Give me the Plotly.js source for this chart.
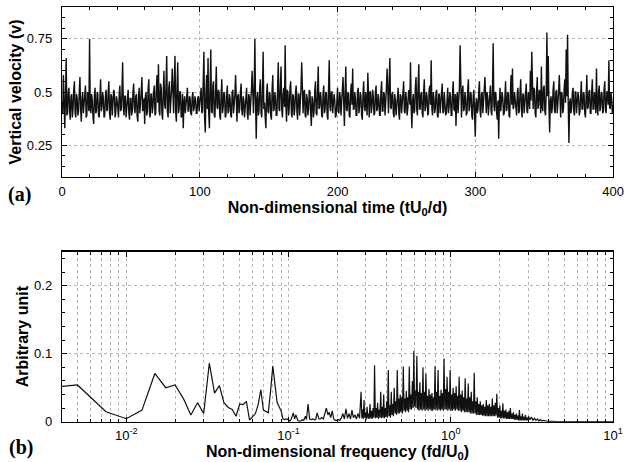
<!DOCTYPE html>
<html><head><meta charset="utf-8">
<script src="https://cdn.plot.ly/plotly-3.0.1.min.js"></script>
<style>html,body{margin:0;padding:0;background:#fff}#chart{width:624px;height:462px}</style>
</head><body><div id="chart"></div>
<script>
// (a) vertical velocity time series, sampled every 0.5 time unit from t = 0
const timeStart = 0;
const timeStep = 0.5;
const velocity = [
.45,.40,.58,.44,.33,.47,.66,.39,.40,.50,.52,.41,.37,.48,.49,.38,.42,.51,.55,.40,.38,.49,.47,.39,.41,.50,.57,.42,.36,.47,.50,.40,.44,.49,.53,.38,.39,.50,.48,.41,
.75,.42,.40,.49,.46,.38,.35,.48,.52,.40,.41,.50,.49,.39,.38,.47,.56,.41,.43,.50,.47,.38,.39,.48,.51,.41,.42,.50,.55,.40,.37,.49,.48,.39,.44,.51,.50,.38,.40,.48,
.46,.40,.38,.49,.53,.41,.42,.50,.64,.43,.39,.48,.48,.38,.43,.50,.51,.40,.37,.47,.47,.39,.41,.50,.54,.42,.40,.48,.49,.39,.36,.47,.52,.40,.44,.50,.57,.41,.42,.47,
.35,.48,.50,.39,.41,.51,.56,.40,.38,.49,.49,.40,.43,.50,.53,.39,.40,.52,.58,.45,.63,.41,.39,.54,.52,.40,.37,.50,.60,.44,.42,.53,.67,.41,.38,.52,.55,.40,.44,.51,
.61,.43,.40,.55,.67,.41,.36,.52,.64,.40,.42,.50,.50,.38,.39,.49,.33,.45,.48,.40,.44,.49,.52,.41,.41,.48,.47,.40,.39,.48,.50,.41,.43,.48,.46,.40,.40,.47,.48,.41,
.45,.48,.52,.40,.41,.55,.69,.38,.31,.50,.58,.42,.66,.40,.33,.52,.70,.41,.40,.53,.55,.39,.38,.50,.62,.43,.42,.51,.50,.39,.37,.49,.56,.40,.43,.50,.49,.38,.39,.48,
.53,.40,.41,.49,.47,.39,.38,.50,.51,.40,.44,.49,.58,.41,.36,.48,.49,.40,.42,.50,.54,.41,.39,.48,.46,.38,.43,.50,.52,.40,.37,.49,.48,.39,.44,.51,.60,.42,.40,.52,
.75,.45,.28,.47,.50,.39,.41,.52,.56,.40,.38,.50,.69,.42,.45,.38,.33,.49,.54,.41,.40,.50,.49,.39,.37,.51,.58,.41,.42,.50,.47,.39,.39,.52,.64,.42,.41,.53,.62,.42,
.38,.49,.52,.43,.72,.44,.36,.51,.50,.39,.43,.52,.55,.40,.38,.49,.48,.39,.42,.50,.53,.41,.37,.49,.49,.39,.44,.52,.64,.41,.40,.50,.51,.39,.38,.49,.47,.39,.42,.51,
.50,.40,.34,.48,.46,.38,.41,.51,.55,.40,.39,.50,.62,.42,.43,.50,.48,.39,.38,.49,.53,.40,.42,.50,.49,.39,.37,.52,.65,.43,.41,.50,.50,.40,.44,.49,.46,.38,.39,.50,
.52,.41,.40,.50,.48,.39,.43,.51,.57,.42,.34,.49,.62,.42,.41,.50,.49,.39,.38,.50,.54,.44,.61,.42,.42,.50,.47,.39,.39,.50,.52,.40,.43,.50,.48,.39,.37,.49,.55,.43,
.41,.50,.46,.39,.59,.43,.38,.50,.50,.40,.43,.51,.48,.39,.40,.50,.53,.41,.42,.49,.47,.39,.39,.50,.55,.41,.41,.50,.49,.39,.44,.52,.61,.43,.40,.54,.66,.43,.42,.49,
.50,.40,.38,.49,.46,.39,.43,.51,.52,.40,.37,.49,.48,.40,.44,.51,.55,.41,.40,.50,.47,.39,.42,.50,.51,.44,.64,.42,.33,.46,.49,.40,.41,.52,.57,.42,.39,.53,.63,.42,
.42,.49,.50,.40,.38,.50,.56,.41,.43,.50,.48,.39,.40,.51,.53,.44,.65,.42,.39,.50,.47,.40,.42,.50,.51,.39,.38,.49,.49,.40,.44,.51,.54,.40,.41,.50,.46,.39,.40,.49,
.52,.40,.43,.50,.48,.39,.39,.50,.55,.42,.41,.49,.34,.47,.50,.40,.44,.52,.72,.43,.38,.50,.53,.41,.42,.50,.47,.39,.40,.51,.56,.41,.43,.50,.49,.39,.37,.48,.51,.40,
.29,.45,.47,.40,.42,.50,.55,.41,.38,.49,.50,.40,.44,.51,.57,.42,.40,.50,.48,.39,.43,.50,.53,.41,.39,.52,.73,.44,.41,.50,.49,.40,.37,.46,.28,.45,.52,.41,.44,.50,
.47,.39,.40,.50,.55,.41,.42,.50,.49,.39,.38,.50,.58,.44,.61,.42,.43,.50,.46,.39,.39,.50,.52,.40,.41,.50,.56,.42,.38,.49,.49,.40,.44,.51,.54,.41,.40,.50,.47,.42,
.60,.46,.69,.43,.42,.52,.51,.40,.38,.50,.57,.42,.44,.51,.50,.40,.62,.43,.41,.52,.53,.41,.39,.50,.78,.48,.67,.43,.31,.46,.48,.40,.43,.51,.55,.41,.40,.50,.51,.40,
.44,.50,.58,.42,.38,.50,.49,.40,.42,.51,.56,.45,.70,.48,.77,.44,.26,.45,.47,.40,.43,.50,.52,.41,.39,.50,.50,.40,.44,.50,.48,.39,.41,.51,.55,.42,.42,.50,.49,.40,
.38,.48,.58,.42,.43,.50,.51,.40,.40,.50,.56,.42,.42,.50,.48,.40,.61,.43,.39,.50,.53,.41,.43,.50,.49,.40,.41,.51,.55,.42,.40,.50,.50,.44,.65,.43,.42,.50,.47,.40,.44
];

// (b) spectrum: non-dimensional frequency and power (arbitrary unit)
const freq = [
0.0025,0.005,0.0075,0.01,0.0125,0.015,0.0175,0.02,0.0225,0.025,
0.0275,0.03,0.0325,0.035,0.0375,0.04,0.0425,0.045,0.0475,0.05,
0.0525,0.055,0.0575,0.06,0.0625,0.065,0.0675,0.07,0.0725,0.075,
0.0775,0.08,0.0825,0.085,0.0875,0.09,0.0925,0.095,0.0975,
0.100,0.102,0.104,0.107,0.109,0.111,0.114,0.116,0.119,0.121,
0.124,0.127,0.129,0.132,0.135,0.138,0.141,0.144,0.147,0.150,
0.154,0.157,0.160,0.164,0.167,0.171,0.175,0.178,0.182,0.186,
0.190,0.194,0.199,0.203,0.207,0.212,0.216,0.221,0.226,0.231,
0.236,0.241,0.246,0.251,0.257,0.262,0.268,0.274,
0.280,0.283,0.286,0.289,0.292,0.295,0.298,0.301,0.305,0.308,
0.311,0.314,0.318,0.321,0.325,0.328,0.332,0.336,0.339,0.343,
0.347,0.350,0.354,0.358,0.362,0.366,0.370,0.374,0.378,0.382,
0.386,0.390,0.394,0.398,0.403,0.407,0.412,0.416,0.420,0.425,
0.430,0.434,0.439,0.443,0.448,0.453,0.458,0.463,0.468,0.473,
0.478,0.483,0.488,0.493,0.499,0.504,0.510,0.515,0.521,0.526,
0.532,0.538,0.544,0.549,0.555,0.561,0.567,0.573,0.580,0.586,
0.592,0.598,0.605,0.611,0.618,0.625,0.632,0.638,0.645,0.652,
0.659,0.666,0.674,0.681,0.688,0.695,0.703,0.710,0.718,0.726,
0.734,0.742,0.750,0.758,0.766,0.774,0.783,0.791,0.800,0.808,
0.817,0.826,0.835,0.844,0.853,0.862,0.871,0.880,0.890,0.899,
0.909,0.919,0.929,0.939,0.949,0.959,0.970,0.980,0.991,1.001,
1.012,1.023,1.034,1.045,1.056,1.067,1.079,1.091,1.103,1.114,
1.126,1.138,1.151,1.163,1.176,1.188,1.201,1.214,1.227,1.240,
1.254,1.267,1.281,1.294,1.308,1.322,1.337,1.351,1.366,1.380,
1.395,1.410,1.425,1.440,1.456,1.472,1.488,1.504,1.520,1.536,
1.553,1.569,1.586,1.603,1.620,1.637,1.655,1.673,1.691,1.709,
1.728,1.746,1.765,1.784,1.803,1.822,1.842,1.862,1.882,1.902,
1.922,1.943,1.964,1.985,2.006,2.028,2.050,2.072,2.094,2.116,
2.139,2.162,2.185,2.209,2.233,2.257,2.281,2.305,2.330,2.355,
2.381,2.406,2.432,2.458,2.485,2.511,2.538,2.565,2.593,2.621,
2.649,2.677,2.706,2.735,2.765,2.795,2.825,2.855,2.886,2.917,
2.948,2.980,3.012,
3.077,3.143,3.211,3.280,3.351,3.424,3.498,3.573,3.650,3.729,
3.810,3.892,3.976,4.062,4.150,4.240,4.331,4.425,4.520,5.0,
6,7,8,9,10
];
const power = [
0.048,0.054,0.0146,0.0044,0.017,0.071,0.050,0.054,0.034,0.010,
0.028,0.012,0.086,0.042,0.053,0.028,0.021,0.018,0.008,0.026,
0.025,0.030,0.0025,0.007,0.012,0.025,0.047,0.017,0.015,0.013,
0.045,0.082,0.055,0.029,0.022,0.016,0.004,0.003,0.004,
0.003,0.001,0.004,0.013,0.004,0.010,0.002,0.001,0.001,0.003,
0.002,0.008,0.003,0.026,0.004,0.003,0.004,0.003,0.003,0.013,
0.004,0.004,0.006,0.004,0.012,0.020,0.010,0.014,0.006,0.016,
0.004,0.002,0.002,0.003,0.002,0.006,0.012,0.004,0.019,0.005,
0.012,0.004,0.017,0.006,0.010,0.004,0.012,0.005,
0.044,0.005,0.018,0.004,0.032,0.006,0.014,0.003,0.022,0.005,
0.012,0.004,0.026,0.005,0.016,0.004,0.020,0.006,0.083,0.005,
0.020,0.006,0.028,0.004,0.018,0.006,0.044,0.005,0.022,0.006,
0.040,0.005,0.020,0.007,0.030,0.006,0.076,0.008,0.024,0.006,
0.044,0.010,0.026,0.008,0.050,0.012,0.030,0.010,0.076,0.012,
0.034,0.012,0.040,0.014,0.036,0.012,0.081,0.016,0.034,0.014,
0.045,0.016,0.036,0.014,0.081,0.018,0.040,0.018,0.060,0.020,
0.104,0.022,0.046,0.020,0.097,0.018,0.044,0.016,0.058,0.018,
0.042,0.016,0.080,0.018,0.044,0.016,0.071,0.018,0.038,0.016,
0.048,0.018,0.040,0.016,0.042,0.016,0.036,0.018,0.082,0.018,
0.044,0.016,0.076,0.018,0.038,0.016,0.047,0.018,0.042,0.016,
0.093,0.018,0.048,0.018,0.066,0.016,0.044,0.018,0.076,0.016,
0.040,0.016,0.050,0.018,0.042,0.016,0.052,0.018,0.038,0.016,
0.066,0.016,0.040,0.014,0.046,0.016,0.036,0.014,0.064,0.014,
0.034,0.014,0.056,0.014,0.036,0.012,0.044,0.012,0.030,0.012,
0.072,0.012,0.030,0.010,0.036,0.010,0.026,0.010,0.030,0.010,
0.024,0.009,0.026,0.009,0.022,0.008,0.032,0.008,0.024,0.008,
0.026,0.008,0.022,0.008,0.034,0.008,0.024,0.008,0.028,0.009,
0.041,0.006,0.020,0.006,0.024,0.005,0.016,0.005,0.027,0.005,
0.016,0.005,0.018,0.004,0.014,0.004,0.016,0.004,0.020,0.004,
0.012,0.004,0.014,0.003,0.010,0.003,0.012,0.003,0.009,0.002,
0.017,0.002,0.008,0.002,0.012,0.002,0.007,0.002,0.010,0.002,
0.006,0.002,0.008,
0.003,0.007,0.002,0.005,0.002,0.004,0.001,0.003,0.001,0.002,
0.001,0.001,0.0005,0.001,0.0005,0.0005,0.0003,0.0003,0.0002,0.0002,
0.0002,0.0002,0.0002,0.0002,0.0002
];

// tick labels and positions of the logarithmic frequency axis
const freqDecades = [0.01, 0.1, 1, 10];
const freqDecadeLabels = ['10<sup>-2</sup>', '10<sup>-1</sup>', '10<sup>0</sup>', '10<sup>1</sup>'];
const freqMinorTicks = [0.005,0.006,0.007,0.008,0.009,0.02,0.03,0.04,0.05,0.06,0.07,0.08,0.09,
  0.2,0.3,0.4,0.5,0.6,0.7,0.8,0.9,2,3,4,5,6,7,8,9];

const panelLabels = ['(a)', '(b)'];
const xTitleA = 'Non-dimensional time (tU<sub>0</sub>/d)';
const yTitleA = 'Vertical velocity (v)';
const xTitleB = 'Non-dimensional frequency (fd/U<sub>0</sub>)';
const yTitleB = 'Arbitrary unit';

const sans = 'Liberation Sans, Arial, Helvetica, sans-serif';
const gridStyle = {gridcolor:'#b4b4b4', griddash:'dot', gridwidth:1};
function axisBase(extra) {
  return Object.assign({
    showline:true, linecolor:'#000', linewidth:1.3, mirror:'ticks',
    ticks:'inside', ticklen:5, tickwidth:1, tickcolor:'#000',
    zeroline:false, showgrid:true, automargin:false,
    tickfont:{family:sans, size:13, color:'#000'}
  }, gridStyle, extra);
}
const titleFont = {family:sans, size:16, color:'#000', weight:700};
const serifFont = {family:'Liberation Serif, Times New Roman, serif', size:20, color:'#000', weight:700};

const traces = [
  {type:'scatter', mode:'lines', x0:timeStart, dx:timeStep, y:velocity,
   xaxis:'x', yaxis:'y', line:{color:'#111', width:1.4}, hoverinfo:'skip'},
  {type:'scatter', mode:'lines', x:freq, y:power,
   xaxis:'x2', yaxis:'y2', line:{color:'#111', width:1.2}, hoverinfo:'skip'}
];

const xDom = [0.0994, 0.9824];
const layout = {
  width:624, height:462,
  margin:{l:0, r:0, t:0, b:0},
  paper_bgcolor:'#fff', plot_bgcolor:'#fff',
  showlegend:false,
  xaxis: axisBase({domain:xDom, anchor:'y', range:[0,400], tick0:0, dtick:100,
    ticklabelstandoff:2,
    minor:{dtick:20, tick0:0, ticks:'inside', ticklen:3, tickcolor:'#000', showgrid:false},
    title:{text:xTitleA, font:titleFont, standoff:3}}),
  yaxis: axisBase({domain:[0.6169, 0.9848], anchor:'x', range:[0.1,0.9], tick0:0, dtick:0.25,
    ticklabelstandoff:6,
    minor:{dtick:0.05, tick0:0, ticks:'inside', ticklen:3, tickcolor:'#000', showgrid:false},
    title:{text:yTitleA, font:titleFont, standoff:1}}),
  xaxis2: axisBase({domain:xDom, anchor:'y2', type:'log', range:[-2.396, 1],
    tickmode:'array', tickvals:freqDecades, ticktext:freqDecadeLabels, ticklabelstandoff:1,
    minor:{tickmode:'array', tickvals:freqMinorTicks, ticks:'inside', ticklen:3, tickcolor:'#000',
           showgrid:true, gridcolor:'#b4b4b4', griddash:'dot', gridwidth:1},
    title:{text:xTitleB, font:titleFont, standoff:3}}),
  yaxis2: axisBase({domain:[0.0872, 0.4552], anchor:'x2', range:[0,0.25], tick0:0, dtick:0.1,
    ticklabelstandoff:6,
    minor:{dtick:0.02, tick0:0, ticks:'inside', ticklen:3, tickcolor:'#000', showgrid:false},
    title:{text:yTitleB, font:titleFont, standoff:1}}),
  annotations: [
    {text:panelLabels[0], xref:'paper', yref:'paper', x:0.031, y:0.578, xanchor:'center', yanchor:'middle',
     showarrow:false, font:serifFont},
    {text:panelLabels[1], xref:'paper', yref:'paper', x:0.034, y:0.032, xanchor:'center', yanchor:'middle',
     showarrow:false, font:serifFont}
  ]
};

Plotly.newPlot('chart', traces, layout, {staticPlot:true, displayModeBar:false});
</script>
</body></html>
